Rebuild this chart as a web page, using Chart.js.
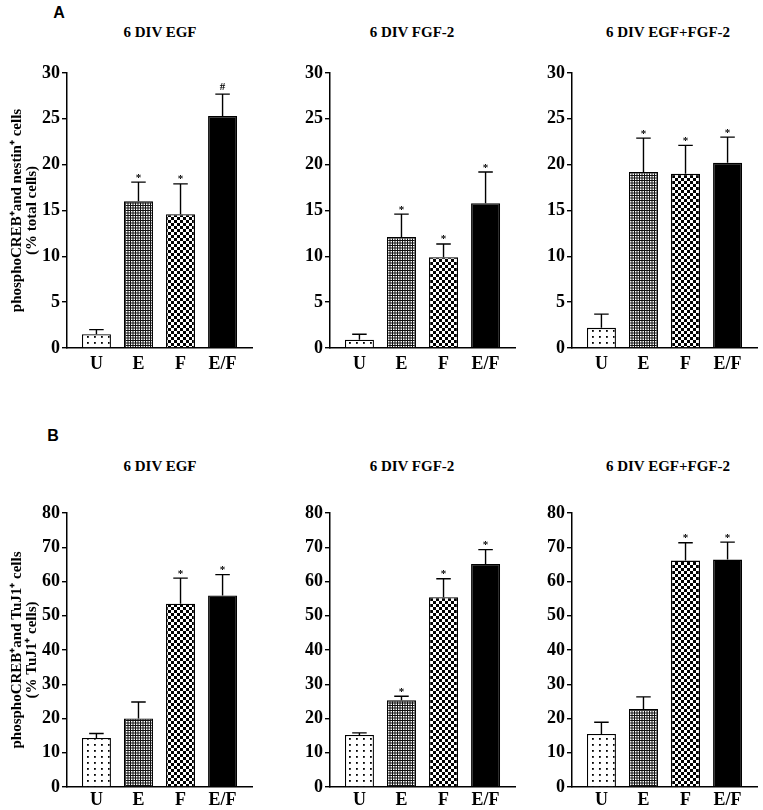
<!DOCTYPE html>
<html>
<head>
<meta charset="utf-8">
<script src="https://cdn.jsdelivr.net/npm/chart.js@4.4.1/dist/chart.umd.min.js"></script>
<style>
  html, body { margin: 0; padding: 0; background: #fff; }
  #fig { position: relative; width: 763px; height: 810px; overflow: hidden; }
  #fig canvas { position: absolute; }
  .ttl { position: absolute; font: bold 15px "Liberation Serif", serif; line-height: 1; transform: translate(-50%, -50%); white-space: nowrap; }
  .lbl { position: absolute; font: bold 16px "Liberation Sans", Arial, sans-serif; line-height: 1; transform: translate(-50%, -50%); }
</style>
</head>
<body>
<div id="fig"></div>
<script>
const categories = ['U', 'E', 'F', 'E/F'];
const panelTitles = ['6 DIV EGF', '6 DIV FGF-2', '6 DIV EGF+FGF-2'];
const yTitleA = ['phosphoCREB⁺and nestin⁺ cells', '(% total cells)'];
const yTitleB = ['phosphoCREB⁺and TuJ1⁺ cells', '(% TuJ1⁺ cells)'];
const yMaxA = 30, yStepA = 5;
const yMaxB = 80, yStepB = 10;

// A: phosphoCREB+ / nestin+ (% total cells)
const aEgf = [1.5, 16.0, 14.6, 25.3];
const aEgfSem = [0.5, 2.1, 3.3, 2.4];
const aEgfSig = ['', '*', '*', '#'];
const aFgf = [0.9, 12.1, 9.9, 15.8];
const aFgfSem = [0.6, 2.5, 1.45, 3.4];
const aFgfSig = ['', '*', '*', '*'];
const aBoth = [2.2, 19.2, 19.0, 20.2];
const aBothSem = [1.5, 3.7, 3.1, 2.8];
const aBothSig = ['', '*', '*', '*'];

// B: phosphoCREB+ / TuJ1+ (% TuJ1+ cells)
const bEgf = [14.3, 20.0, 53.5, 55.9];
const bEgfSem = [1.3, 4.8, 7.5, 6.1];
const bEgfSig = ['', '', '*', '*'];
const bFgf = [15.2, 25.3, 55.4, 65.1];
const bFgfSem = [0.6, 1.2, 5.4, 4.2];
const bFgfSig = ['', '*', '*', '*'];
const bBoth = [15.5, 22.8, 66.1, 66.4];
const bBothSem = [3.4, 3.5, 5.2, 5.1];
const bBothSig = ['', '', '*', '*'];

const serif = '"Liberation Serif", "Times New Roman", serif';

// page layout
const cols = [
  { left: 0,   width: 258, axisL: 67,  axisR: 252, titleX: 160 },
  { left: 262, width: 255, axisL: 330, axisR: 515, titleX: 412 },
  { left: 519, width: 244, axisL: 572, axisR: 757, titleX: 668 }
];
const rows = [
  { name: 'A', top: 40,  height: 340, plotTop: 73,  plotBottom: 348, titleY: 32,  tickPad: 6,
    yMax: yMaxA, yStep: yStepA, yTitle: yTitleA, letterX: 59, letterY: 13 },
  { name: 'B', top: 490, height: 320, plotTop: 513, plotBottom: 787, titleY: 466, tickPad: 3,
    yMax: yMaxB, yStep: yStepB, yTitle: yTitleB, letterX: 53, letterY: 436 }
];
const panels = [
  [aEgf, aEgfSem, aEgfSig], [aFgf, aFgfSem, aFgfSig], [aBoth, aBothSem, aBothSig],
  [bEgf, bEgfSem, bEgfSig], [bFgf, bFgfSem, bFgfSig], [bBoth, bBothSem, bBothSig]
];

function makePattern(kind) {
  const c = document.createElement('canvas');
  const sizes = { dots: [7, 6], grid: [5, 5], check: [6, 6] };
  c.width = sizes[kind][0];
  c.height = sizes[kind][1];
  const g = c.getContext('2d');
  if (kind === 'dots') {
    g.fillStyle = '#fff';
    g.fillRect(0, 0, 7, 6);
    g.fillStyle = '#000';
    g.fillRect(3, 2, 1.8, 1.8);
  } else if (kind === 'grid') {
    // black mesh with small white holes
    g.fillStyle = '#111';
    g.fillRect(0, 0, 5, 5);
    g.fillStyle = '#fff';
    [[1, 1], [3.5, 1], [1, 3.5], [3.5, 3.5]].forEach(([x, y]) => g.fillRect(x, y, 1.5, 1.5));
  } else {
    g.fillStyle = '#fff';
    g.fillRect(0, 0, 6, 6);
    g.fillStyle = '#000';
    g.fillRect(0, 0, 3, 3);
    g.fillRect(3, 3, 3, 3);
  }
  return g.createPattern(c, 'repeat');
}
const fills = [makePattern('dots'), makePattern('grid'), makePattern('check'), '#000'];

// error bars (upward only) plus significance marks
const errorBars = {
  id: 'errorBars',
  afterDatasetsDraw(chart) {
    const { ctx } = chart;
    const y = chart.scales.y;
    const ds = chart.data.datasets[0];
    const meta = chart.getDatasetMeta(0);
    ctx.save();
    ctx.strokeStyle = '#000';
    ctx.lineWidth = 1.4;
    ctx.fillStyle = '#000';
    ctx.font = 'bold 11px ' + serif;
    ctx.textAlign = 'center';
    meta.data.forEach((bar, i) => {
      const top = y.getPixelForValue(ds.data[i].y + ds.sem[i]);
      const half = bar.width / 4;
      ctx.beginPath();
      ctx.moveTo(bar.x, bar.y);
      ctx.lineTo(bar.x, top);
      ctx.moveTo(bar.x - half, top);
      ctx.lineTo(bar.x + half, top);
      ctx.stroke();
      const s = ds.sig[i];
      if (s) {
        const m = ctx.measureText(s);
        ctx.fillText(s, bar.x, top - 4.5 - m.actualBoundingBoxDescent);
      }
    });
    ctx.restore();
  }
};

const fig = document.getElementById('fig');

function addText(cls, text, x, y) {
  const d = document.createElement('div');
  d.className = cls;
  d.textContent = text;
  d.style.left = x + 'px';
  d.style.top = y + 'px';
  fig.appendChild(d);
}

rows.forEach((row, r) => {
  addText('lbl', row.name, row.letterX, row.letterY);
  cols.forEach((col, c) => {
    addText('ttl', panelTitles[c], col.titleX, row.titleY);

    const [values, sem, sig] = panels[r * 3 + c];
    const canvas = document.createElement('canvas');
    canvas.width = col.width;
    canvas.height = row.height;
    canvas.style.left = col.left + 'px';
    canvas.style.top = row.top + 'px';
    fig.appendChild(canvas);

    new Chart(canvas.getContext('2d'), {
      type: 'bar',
      data: {
        datasets: [{
          data: values.map((v, i) => ({ x: i, y: v })),
          sem: sem,
          sig: sig,
          backgroundColor: fills,
          borderColor: '#000',
          borderWidth: 1.3,
          barPercentage: 0.69,
          categoryPercentage: 1
        }]
      },
      options: {
        responsive: false,
        animation: false,
        layout: {
          padding: { top: row.plotTop - row.top, right: col.left + col.width - col.axisR, bottom: 0, left: 0 }
        },
        plugins: {
          legend: { display: false },
          tooltip: { enabled: false }
        },
        scales: {
          x: {
            type: 'linear',
            min: -0.7,
            max: 3.7,
            offset: false,
            grid: { display: false, drawTicks: false },
            border: { display: true, color: '#000', width: 1.4 },
            ticks: {
              stepSize: 1,
              includeBounds: false,
              autoSkip: false,
              maxRotation: 0,
              padding: row.tickPad,
              color: '#000',
              font: { family: serif, size: 18, weight: 'bold' },
              callback: v => categories[v] ?? ''
            },
            afterFit: s => { s.height = row.top + row.height - row.plotBottom; }
          },
          y: {
            min: 0,
            max: row.yMax,
            ticks: {
              stepSize: row.yStep,
              padding: 2,
              color: '#000',
              font: { family: serif, size: 18, weight: 'bold' }
            },
            grid: { drawOnChartArea: false, drawTicks: true, tickLength: 5, color: '#000', lineWidth: 1.4 },
            border: { display: true, color: '#000', width: 1.5 },
            title: {
              display: c === 0,
              text: row.yTitle,
              color: '#000',
              font: { family: serif, size: 15, weight: 'bold', lineHeight: 1 },
              padding: { top: 10, bottom: 0 }
            },
            afterFit: s => { s.width = col.axisL - col.left; }
          }
        }
      },
      plugins: [errorBars]
    });
  });
});
</script>
</body>
</html>
